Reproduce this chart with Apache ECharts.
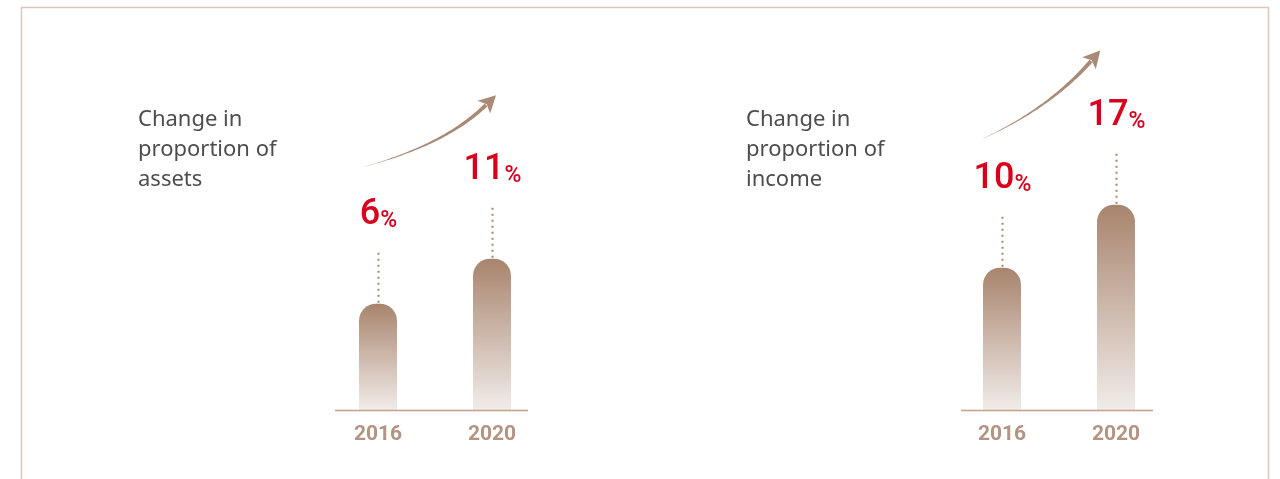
<!DOCTYPE html>
<html>
<head>
<meta charset="utf-8">
<script src="https://cdn.jsdelivr.net/npm/echarts@6/dist/echarts.min.js"></script>
<style>
html,body{margin:0;padding:0;background:#fff;}
#chart{width:1280px;height:479px;}
</style>
</head>
<body>
<div id="chart"></div>
<script>
// ---- data ----
var categories = ['2016', '2020'];
var assetsShare = [6, 11];
var incomeShare = [10, 17];
var panelTitles = ['Change in\nproportion of\nassets', 'Change in\nproportion of\nincome'];

var Y_MIN = -5.8, Y_MAX = 20;

var chart = echarts.init(document.getElementById('chart'));

function barSeries(idx, data) {
  return {
    type: 'custom', xAxisIndex: idx, yAxisIndex: idx,
    data: data.map(function (v, i) { return [i, v]; }),
    silent: true, z: 2,
    renderItem: function (params, api) {
      var top = api.coord([api.value(0), api.value(1)]);
      var base = api.coord([api.value(0), Y_MIN]);
      var w = 38;
      return {
        type: 'rect',
        shape: {x: Math.round(top[0] - w / 2), y: top[1], width: w, height: base[1] - top[1], r: [17, 17, 0, 0]},
        style: {
          fill: new echarts.graphic.LinearGradient(0, 0, 0, 1, [
            {offset: 0, color: '#a8846d'},
            {offset: 1, color: '#f1ece9'}
          ])
        }
      };
    }
  };
}

function labelSeries(idx, data) {
  return {
    type: 'custom', xAxisIndex: idx, yAxisIndex: idx,
    data: data.map(function (v, i) { return [i, v]; }),
    silent: true, z: 3,
    renderItem: function (params, api) {
      var p = api.coord([api.value(0), api.value(1)]);
      var x = Math.round(p[0]) + 0.5;
      var y = p[1];
      return {
        type: 'group',
        children: [
          {
            type: 'line',
            shape: {x1: x, y1: y - 1, x2: x, y2: y - 53},
            style: {stroke: '#a98670', lineWidth: 2, lineDash: [2, 4]}
          },
          {
            type: 'text',
            x: x, y: y - 71,
            style: {
              text: '{n|' + api.value(1) + '}{p|%}',
              align: 'center', verticalAlign: 'bottom',
              fill: '#d9001b',
              rich: {
                n: {fontFamily: 'Roboto', fontWeight: 500, fontSize: 36, fill: '#d9001b', color: '#d9001b', lineHeight: 40, verticalAlign: 'bottom'},
                p: {fontFamily: 'Roboto', fontWeight: 500, fontSize: 23, fill: '#d9001b', color: '#d9001b', lineHeight: 40, verticalAlign: 'bottom'}
              }
            }
          }
        ]
      };
    }
  };
}

function arrowGraphic(p0, c, p2, maxW, headLen, headHalf) {
  var n = 40, left = [], right = [];
  for (var i = 0; i <= n; i++) {
    var t = i / n;
    var x = (1 - t) * (1 - t) * p0[0] + 2 * (1 - t) * t * c[0] + t * t * p2[0];
    var y = (1 - t) * (1 - t) * p0[1] + 2 * (1 - t) * t * c[1] + t * t * p2[1];
    var dx = 2 * (1 - t) * (c[0] - p0[0]) + 2 * t * (p2[0] - c[0]);
    var dy = 2 * (1 - t) * (c[1] - p0[1]) + 2 * t * (p2[1] - c[1]);
    var l = Math.sqrt(dx * dx + dy * dy);
    var nx = -dy / l, ny = dx / l;
    var w = maxW * Math.pow(t, 0.9) / 2;
    left.push([x + nx * w, y + ny * w]);
    right.unshift([x - nx * w, y - ny * w]);
  }
  var ex = p2[0] - c[0], ey = p2[1] - c[1];
  var el = Math.sqrt(ex * ex + ey * ey);
  ex /= el; ey /= el;
  var px = -ey, py = ex;
  var tip = [p2[0] + ex * headLen, p2[1] + ey * headLen];
  var back = [p2[0] - ex * 3, p2[1] - ey * 3];
  var head = [
    [back[0] + px * headHalf, back[1] + py * headHalf],
    tip,
    [back[0] - px * headHalf, back[1] - py * headHalf],
    [p2[0] + ex * 1, p2[1] + ey * 1]
  ];
  return [
    {type: 'polygon', shape: {points: left.concat(right)}, style: {fill: '#a98a76'}, silent: true},
    {type: 'polygon', shape: {points: head}, style: {fill: '#a98a76'}, silent: true}
  ];
}

var graphics = [
  {type: 'polyline', shape: {points: [[21.5, 479], [21.5, 7.5], [1268.5, 7.5], [1268.5, 479]]},
   style: {stroke: '#d9c7bd', lineWidth: 1.5, fill: null}, silent: true},
  {type: 'line', shape: {x1: 335, y1: 410.5, x2: 528, y2: 410.5}, style: {stroke: '#c4a089', lineWidth: 1.5}, silent: true, z: 5},
  {type: 'line', shape: {x1: 961, y1: 410.5, x2: 1153, y2: 410.5}, style: {stroke: '#c4a089', lineWidth: 1.5}, silent: true, z: 5}
].concat(
  arrowGraphic([363, 167], [445, 145], [486, 105], 4, 14, 9),
  arrowGraphic([982, 139], [1050, 108], [1091, 61], 4, 14, 9)
);

var axisLabelStyle = {color: '#b39482', fontSize: 21, fontWeight: 'bold', fontFamily: 'Roboto', margin: 14};
var titleStyle = {fontFamily: 'Noto Sans', fontWeight: 'normal', fontSize: 22, lineHeight: 30, color: '#4d4d4d'};

var option = {
  animation: false,
  backgroundColor: '#ffffff',
  title: [
    {text: panelTitles[0], left: 133, top: 100, textStyle: titleStyle},
    {text: panelTitles[1], left: 741, top: 100, textStyle: titleStyle}
  ],
  grid: [
    {left: 321, width: 228, top: 177.8, bottom: 69},
    {left: 945, width: 228, top: 177.8, bottom: 69}
  ],
  xAxis: [0, 1].map(function (i) {
    return {
      type: 'category', gridIndex: i, data: categories,
      axisLine: {show: false}, axisTick: {show: false},
      axisLabel: axisLabelStyle, splitLine: {show: false}
    };
  }),
  yAxis: [0, 1].map(function (i) {
    return {type: 'value', gridIndex: i, min: Y_MIN, max: Y_MAX, show: false, splitLine: {show: false}};
  }),
  graphic: graphics,
  series: [
    barSeries(0, assetsShare), labelSeries(0, assetsShare),
    barSeries(1, incomeShare), labelSeries(1, incomeShare)
  ]
};
chart.setOption(option);
</script>
</body>
</html>
